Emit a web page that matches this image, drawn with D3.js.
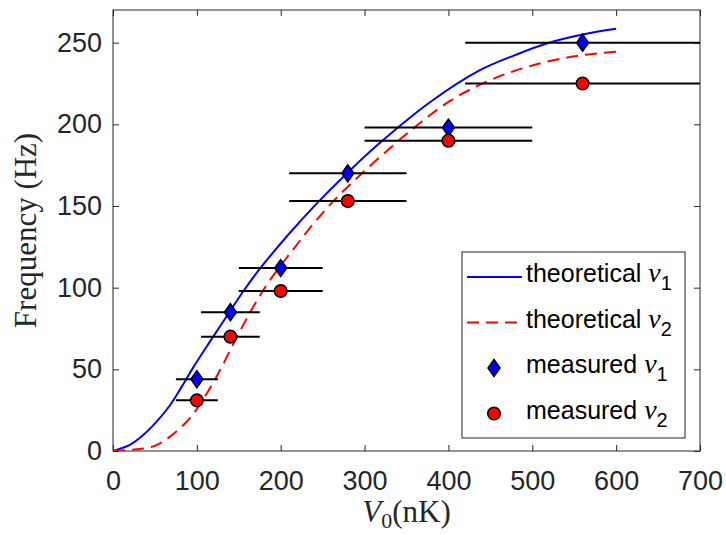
<!DOCTYPE html>
<html>
<head>
<meta charset="utf-8">
<script src="https://cdn.jsdelivr.net/npm/d3@7"></script>
<style>
  body { margin: 0; background: #fff; }
  svg { display: block; }
</style>
</head>
<body>
<svg id="chart" width="726" height="535"></svg>
<script>
// theoretical curves
const theoryX1 = [0, 20, 36, 52, 68, 82, 95, 115, 135, 155, 175, 210, 242, 280, 318, 378, 437, 480, 517, 560, 600];
const theoryY1 = [0, 3.7, 9.8, 18, 28, 39.4, 50.6, 66.5, 82, 97.5, 111.5, 133, 151, 170.5, 188.5, 213.5, 233, 242.5, 249.5, 255, 258.5];
const theoryX2 = [0, 28, 44, 56, 68, 82, 94, 103, 123, 147, 167, 187, 215, 238, 262, 298, 358, 401, 445, 493, 548, 600];
const theoryY2 = [0, 1, 2.2, 4.7, 8.8, 14.9, 21.5, 28, 45, 69, 88, 104.5, 123.5, 138.5, 152.5, 170.5, 197.5, 214, 226, 235, 241.5, 244.5];

// measured points
const measX = [100, 140, 200, 280, 400, 560];
const measXErr = [25, 35, 50, 70, 100, 140];
const measNu1 = [44, 85, 112, 170, 198, 250];
const measNu2 = [31, 70, 98, 153, 190, 225];

const xTicks = [0, 100, 200, 300, 400, 500, 600, 700];
const yTicks = [0, 50, 100, 150, 200, 250];

const axisColor = '#262626';
const sans = '"Liberation Sans", Arial, Helvetica, sans-serif';
const serif = '"Liberation Serif", "Times New Roman", serif';

const svg = d3.select('#chart');

const x = d3.scaleLinear().domain([0, 700]).range([113, 700]);
const y = d3.scaleLinear().domain([0, 270]).range([451, 10]);

// clip for the plot area
svg.append('defs').append('clipPath').attr('id', 'plotClip')
  .append('rect')
  .attr('x', x(0)).attr('y', y(270))
  .attr('width', x(700) - x(0)).attr('height', y(0) - y(270));

// axes
const styleAxis = (g) => {
  g.select('.domain').remove();
  g.selectAll('.tick line').attr('stroke', axisColor);
  g.selectAll('.tick text')
    .attr('fill', axisColor)
    .style('font-family', sans)
    .style('font-size', '27px');
};

svg.append('g')
  .attr('transform', `translate(0,${y(0)})`)
  .call(d3.axisBottom(x).tickValues(xTicks).tickSize(-6).tickPadding(20))
  .call(styleAxis);

svg.append('g')
  .attr('transform', `translate(${x(0)},0)`)
  .call(d3.axisLeft(y).tickValues(yTicks).tickSize(-6).tickPadding(11))
  .call(styleAxis);

svg.append('g')
  .attr('transform', `translate(0,${y(270)})`)
  .call(d3.axisTop(x).tickValues(xTicks).tickSize(-6).tickFormat(''))
  .call(styleAxis);

svg.append('g')
  .attr('transform', `translate(${x(700)},0)`)
  .call(d3.axisRight(y).tickValues(yTicks).tickSize(-6).tickFormat(''))
  .call(styleAxis);

// box
svg.append('rect')
  .attr('x', x(0)).attr('y', y(270))
  .attr('width', x(700) - x(0)).attr('height', y(0) - y(270))
  .attr('fill', 'none')
  .attr('stroke', axisColor)
  .attr('stroke-width', 1);

const plot = svg.append('g').attr('clip-path', 'url(#plotClip)');

const line = d3.line()
  .x((d) => x(d[0]))
  .y((d) => y(d[1]))
  .curve(d3.curveCatmullRom.alpha(0.5));

plot.append('path')
  .datum(d3.zip(theoryX1, theoryY1))
  .attr('d', line)
  .attr('fill', 'none')
  .attr('stroke', '#0000ff')
  .attr('stroke-width', 2);

plot.append('path')
  .datum(d3.zip(theoryX2, theoryY2))
  .attr('d', line)
  .attr('fill', 'none')
  .attr('stroke', '#ff0000')
  .attr('stroke-width', 2)
  .attr('stroke-dasharray', '12,7');

// error bars
const drawErr = (vals) => {
  plot.selectAll(null)
    .data(measX.map((v, i) => ({ x: v, e: measXErr[i], y: vals[i] })))
    .enter()
    .append('line')
    .attr('x1', (d) => x(d.x - d.e))
    .attr('x2', (d) => x(d.x + d.e))
    .attr('y1', (d) => y(d.y))
    .attr('y2', (d) => y(d.y))
    .attr('stroke', '#000')
    .attr('stroke-width', 2);
};
drawErr(measNu1);
drawErr(measNu2);

const diamond = (w, h) => `M0,${-h}L${w},0L0,${h}L${-w},0Z`;

svg.selectAll('.nu1')
  .data(measX.map((v, i) => [v, measNu1[i]]))
  .enter()
  .append('path')
  .attr('class', 'nu1')
  .attr('d', diamond(6, 8.5))
  .attr('transform', (d) => `translate(${x(d[0])},${y(d[1])})`)
  .attr('fill', '#0000ff')
  .attr('stroke', '#000')
  .attr('stroke-width', 1.5);

svg.selectAll('.nu2')
  .data(measX.map((v, i) => [v, measNu2[i]]))
  .enter()
  .append('circle')
  .attr('class', 'nu2')
  .attr('cx', (d) => x(d[0]))
  .attr('cy', (d) => y(d[1]))
  .attr('r', 6.3)
  .attr('fill', '#ff0000')
  .attr('stroke', '#000')
  .attr('stroke-width', 1.5);

// axis labels
svg.append('text')
  .attr('transform', `translate(36,${(y(0) + y(270)) / 2}) rotate(-90)`)
  .attr('text-anchor', 'middle')
  .attr('fill', axisColor)
  .style('font-family', serif)
  .style('font-size', '31px')
  .text('Frequency (Hz)');

const xl = svg.append('text')
  .attr('x', (x(0) + x(700)) / 2)
  .attr('y', 522)
  .attr('text-anchor', 'middle')
  .attr('fill', axisColor)
  .style('font-family', serif)
  .style('font-size', '31px');
xl.append('tspan').style('font-style', 'italic').text('V');
xl.append('tspan').attr('dy', 6).style('font-size', '22px').text('0');
xl.append('tspan').attr('dy', -6).text('(nK)');

// legend
const legendItems = [
  { label: 'theoretical ', sub: '1', type: 'line', color: '#0000ff', dash: null },
  { label: 'theoretical ', sub: '2', type: 'line', color: '#ff0000', dash: '12,7' },
  { label: 'measured ', sub: '1', type: 'diamond', color: '#0000ff' },
  { label: 'measured ', sub: '2', type: 'circle', color: '#ff0000' },
];

const lg = svg.append('g');
lg.append('rect')
  .attr('x', 462).attr('y', 252)
  .attr('width', 223).attr('height', 186)
  .attr('fill', '#fff')
  .attr('stroke', axisColor)
  .attr('stroke-width', 1);

const rows = lg.selectAll('.row')
  .data(legendItems)
  .enter()
  .append('g')
  .attr('class', 'row')
  .attr('transform', (d, i) => `translate(0,${277 + i * 45.5})`);

rows.filter((d) => d.type === 'line')
  .append('line')
  .attr('x1', 467).attr('x2', 522)
  .attr('stroke', (d) => d.color)
  .attr('stroke-width', 2)
  .attr('stroke-dasharray', (d) => d.dash);

rows.filter((d) => d.type === 'diamond')
  .append('path')
  .attr('d', diamond(6, 8.5))
  .attr('transform', 'translate(494,0)')
  .attr('fill', (d) => d.color)
  .attr('stroke', '#000')
  .attr('stroke-width', 1.5);

rows.filter((d) => d.type === 'circle')
  .append('circle')
  .attr('cx', 494).attr('r', 6.3)
  .attr('fill', (d) => d.color)
  .attr('stroke', '#000')
  .attr('stroke-width', 1.5);

const lt = rows.append('text')
  .attr('x', 526)
  .attr('y', 5)
  .attr('fill', '#000')
  .style('font-family', sans)
  .style('font-size', '25px');
lt.append('tspan').text((d) => d.label);
lt.append('tspan')
  .style('font-family', serif)
  .style('font-style', 'italic')
  .style('font-size', '28px')
  .text('\u03bd');
lt.append('tspan')
  .attr('dy', 8)
  .style('font-size', '20px')
  .text((d) => d.sub);
</script>
</body>
</html>
